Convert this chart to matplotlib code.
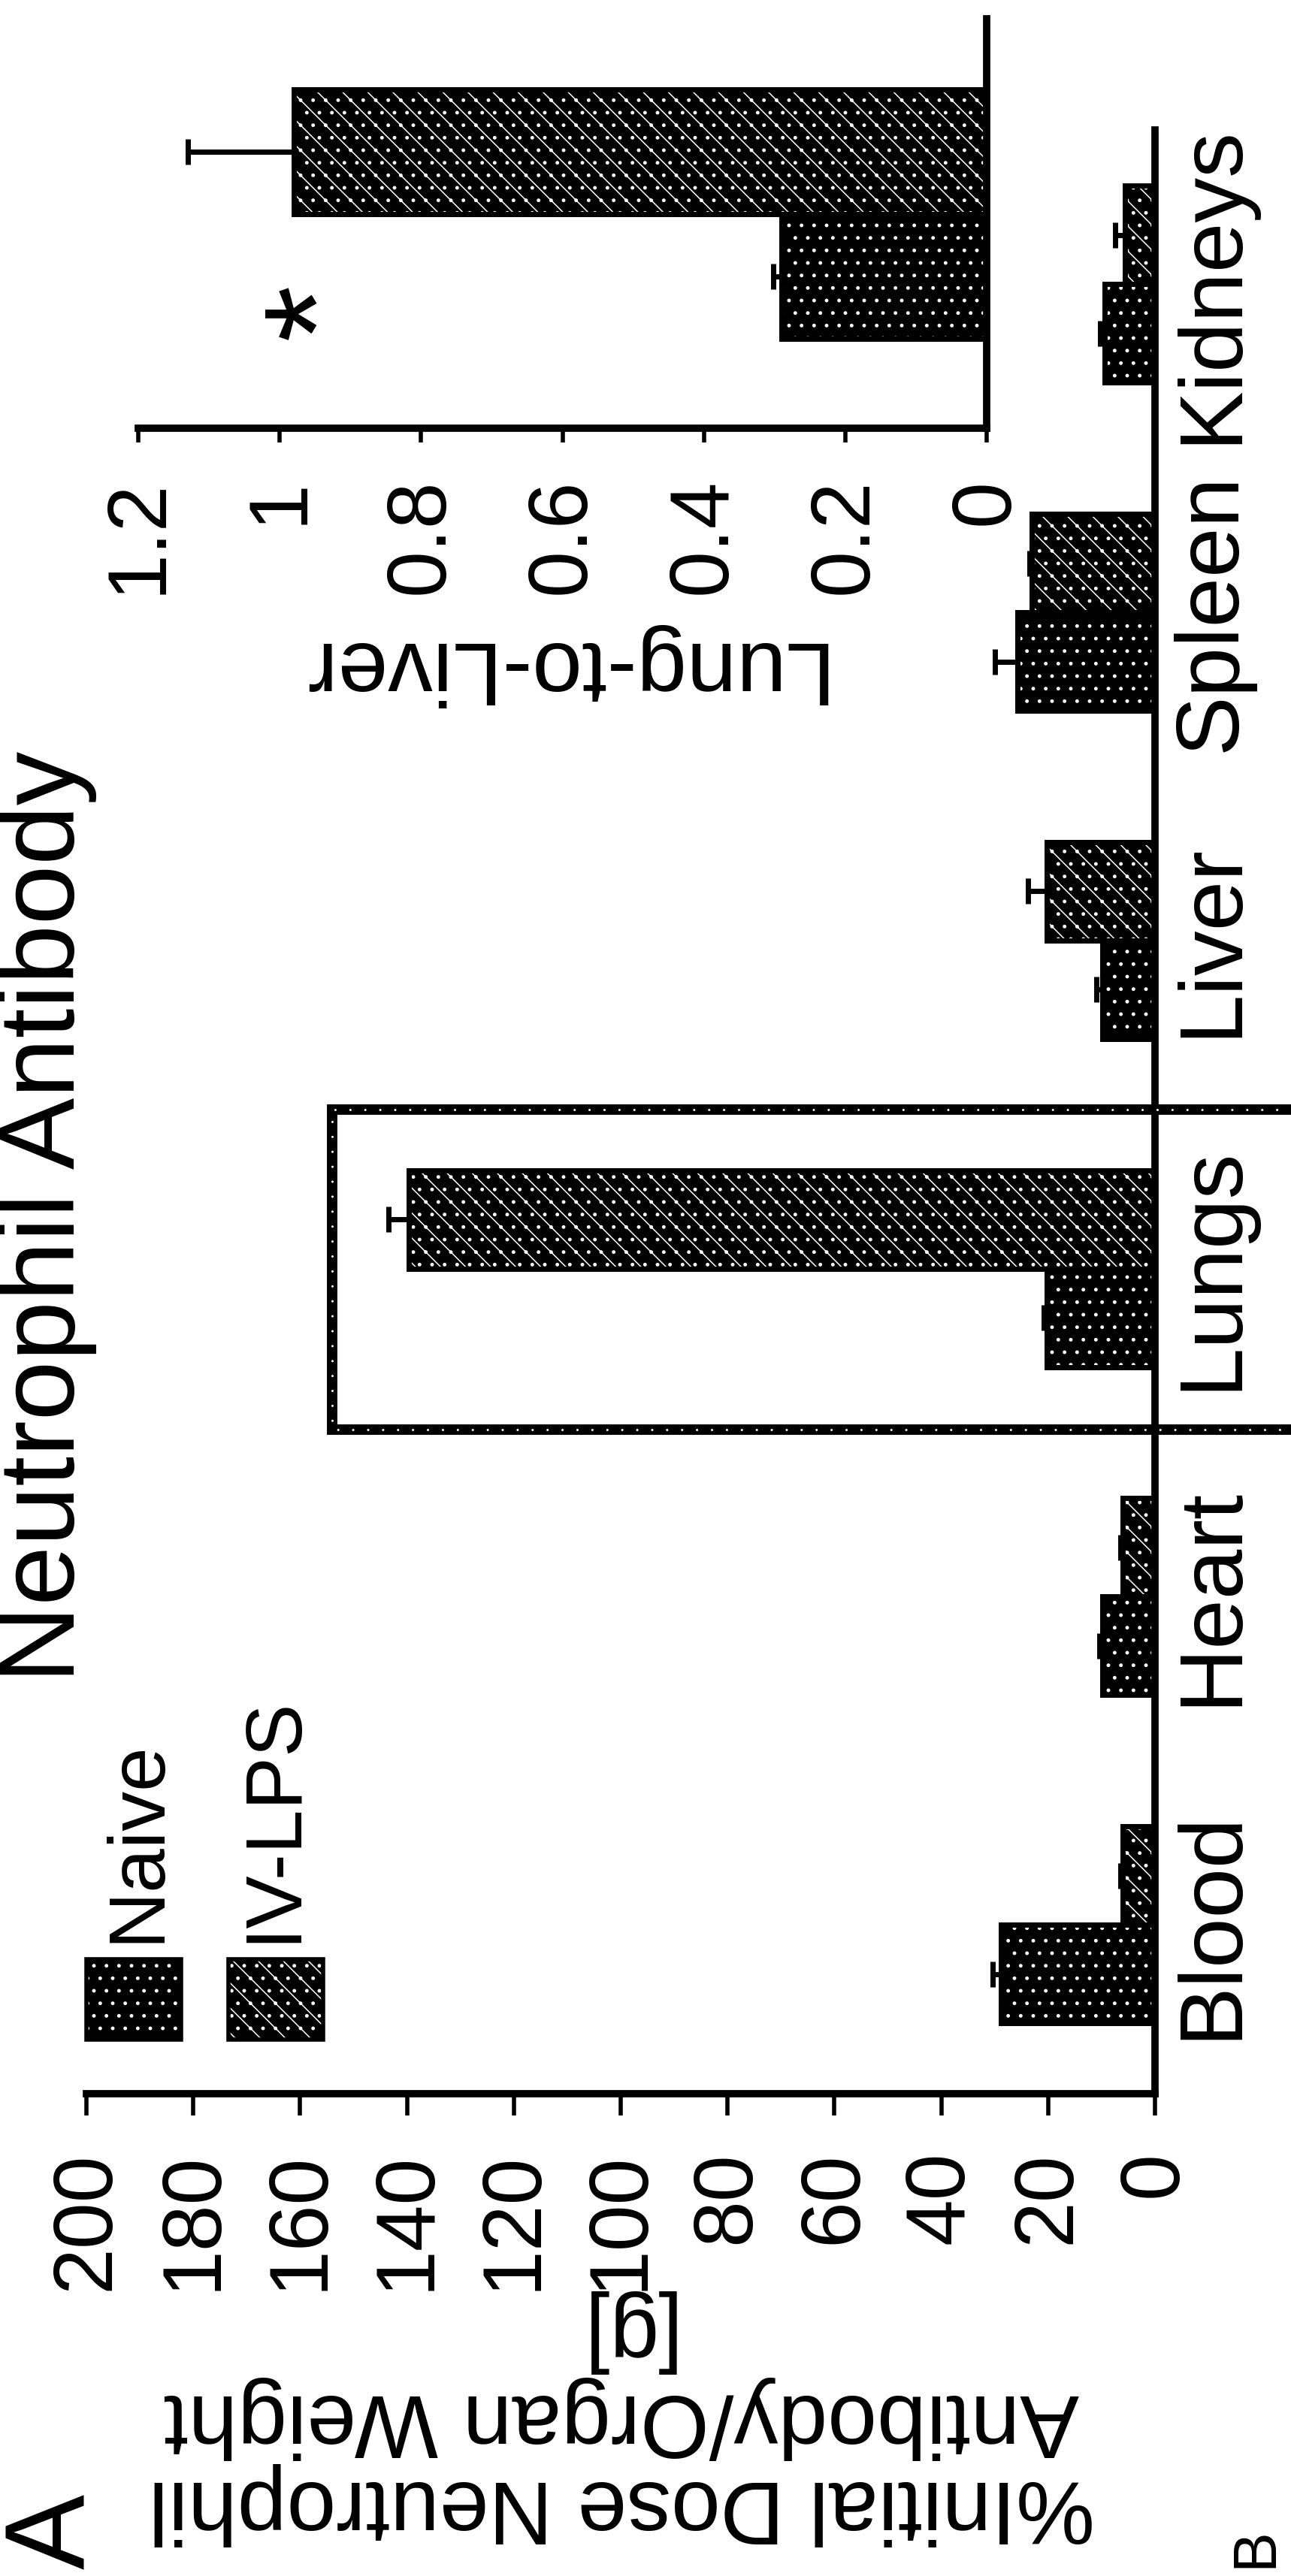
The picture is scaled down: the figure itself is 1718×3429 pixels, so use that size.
import matplotlib
matplotlib.use("Agg")
import matplotlib.pyplot as plt
from matplotlib.patches import Rectangle
import numpy as np

# main chart values
organs = ["Blood", "Heart", "Lungs", "Liver", "Spleen", "Kidneys"]
naive = [28.9, 9.9, 20.3, 9.9, 25.8, 9.4]
naive_err = [1.5, 0.5, 0.5, 1.1, 4.2, 0.8]
ivlps = [6.0, 6.1, 139.6, 20.3, 23.0, 5.6]
ivlps_err = [0.5, 0.4, 3.9, 3.5, 0.5, 1.8]
value_ticks = [0, 20, 40, 60, 80, 100, 120, 140, 160, 180, 200]

# inset: lung-to-liver ratio
ratio = [0.29, 0.98]          # naive, IV-LPS
ratio_err = [0.012, 0.15]
ratio_ticks = [0, 0.2, 0.4, 0.6, 0.8, 1, 1.2]

W, H = 1718, 3429
DPI = 100
NAIVE_HATCH = "."
LPS_HATCH = "\\."

plt.rcParams["font.family"] = ["Liberation Sans", "DejaVu Sans"]
plt.rcParams["hatch.linewidth"] = 1.1

fig = plt.figure(figsize=(W / DPI, H / DPI), dpi=DPI, facecolor="white")


def fx(x):
    return x / W


def fy(y):
    return 1 - y / H


def px_axes(x0, y0, x1, y1):
    """axes placed by pixel box of the picture"""
    a = fig.add_axes([fx(x0), fy(y1), (x1 - x0) / W, (y1 - y0) / H])
    a.patch.set_alpha(0)
    return a


def hbars(ax, pos, vals, errs, hatch, h):
    ax.barh(pos, vals, height=h, color="black", edgecolor="white",
            hatch=hatch, linewidth=0, zorder=2)
    ax.barh(pos, vals, height=h, fill=False, edgecolor="black",
            linewidth=5, zorder=3)
    ax.errorbar(vals, pos, xerr=[np.zeros(len(vals)), errs], fmt="none",
                ecolor="black", elinewidth=5, capsize=12, capthick=5,
                zorder=4)


def style_axis(ax, ticks, labels, ticklen, fsize):
    for s in ["left", "top"]:
        ax.spines[s].set_visible(False)
    for s in ["right", "bottom"]:
        ax.spines[s].set_linewidth(7)
    ax.set_xticks(ticks)
    ax.set_xticklabels(labels, rotation=90)
    ax.tick_params(axis="x", length=ticklen, width=4, pad=34,
                   labelsize=fsize, direction="out")


# ---- main chart ----
ax = px_axes(115, 173, 1537, 2787)
y = np.arange(len(organs))
bw = 0.3
hbars(ax, y - bw / 2, naive, naive_err, NAIVE_HATCH, bw)
hbars(ax, y + bw / 2, ivlps, ivlps_err, LPS_HATCH, bw)
ax.set_xlim(200, 0)
ax.set_ylim(-0.515, 5.47)
style_axis(ax, value_ticks, [str(v) for v in value_ticks], 21, 80)
ax.yaxis.tick_right()
ax.set_yticks(y)
ax.set_yticklabels(organs, rotation=90)
plt.setp(ax.get_yticklabels(), va="center")
ax.tick_params(axis="y", length=0, pad=15, labelsize=86)
ax.set_xlabel("%Initial Dose Neutrophil\nAntibody/Organ Weight\n[g]",
              rotation=180, fontsize=85, linespacing=1.05)
ax.xaxis.set_label_coords(0.5007, -0.0998)

# highlight box round the lung bars
li = organs.index("Lungs")
bx = [-30, 154, 154, -30]
by = [li + 0.484, li + 0.484, li - 0.491, li - 0.491]
ax.plot(bx, by, color="black", lw=10, clip_on=False,
        solid_joinstyle="miter", zorder=5)
ax.plot(bx, by, color="white", lw=2.2, clip_on=False, zorder=6,
        linestyle=(0, (0.01, 6.5)), dash_capstyle="round")

# ---- inset ----
ax2 = px_axes(184, 25, 1313, 570)
hbars(ax2, [-0.5], ratio[:1], ratio_err[:1], NAIVE_HATCH, 1.0)
hbars(ax2, [0.5], ratio[1:], ratio_err[1:], LPS_HATCH, 1.0)
ax2.set_xlim(1.2, 0)
ax2.set_ylim(-1.72, 1.57)
style_axis(ax2, ratio_ticks, [f"{v:g}" for v in ratio_ticks], 14, 80)
ax2.set_yticks([])
ax2.set_xlabel("Lung-to-Liver", rotation=180, fontsize=86)
ax2.xaxis.set_label_coords(0.494, -0.477)
ax2.text(0.935, -0.78, "*", rotation=90, ha="center", va="center",
         fontsize=140)

# ---- legend, title, panel letters ----
legend = [("Naive", NAIVE_HATCH, 115, 211), ("IV-LPS", LPS_HATCH, 304, 392)]
for name, hatch, x0, base in legend:
    fig.add_artist(Rectangle((fx(x0), fy(2715)), 126 / W, 107 / H,
                             transform=fig.transFigure, facecolor="black",
                             edgecolor="white", hatch=hatch, linewidth=0))
    fig.add_artist(Rectangle((fx(x0), fy(2715)), 126 / W, 107 / H,
                             transform=fig.transFigure, fill=False,
                             edgecolor="black", linewidth=4))
    fig.text(fx(base), fy(2586), name, rotation=90, rotation_mode="anchor",
             ha="left", va="baseline", fontsize=76)

fig.text(fx(99), fy(1620), "Neutrophil Antibody", rotation=90,
         rotation_mode="anchor", ha="center", va="baseline", fontsize=103)
fig.text(fx(112), fy(3420), "A", rotation=90, rotation_mode="anchor",
         ha="left", va="baseline", fontsize=108)
fig.text(fx(1692), fy(3418), "B", rotation=90, rotation_mode="anchor",
         ha="left", va="baseline", fontsize=58)

fig.savefig("out.png", dpi=DPI, facecolor="white")
